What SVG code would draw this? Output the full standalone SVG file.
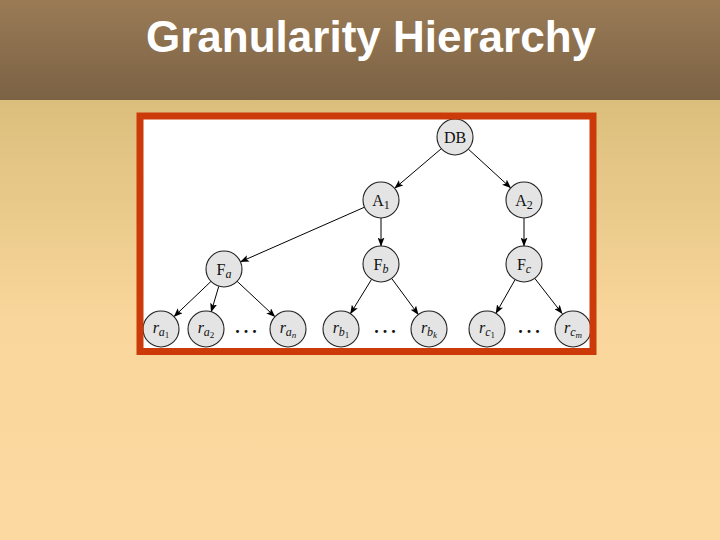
<svg xmlns="http://www.w3.org/2000/svg" width="720" height="540" viewBox="0 0 720 540">
  <defs>
    <linearGradient id="hdr" x1="0" y1="0" x2="0" y2="1">
      <stop offset="0" stop-color="#9a7b56"/>
      <stop offset="1" stop-color="#7b6244"/>
    </linearGradient>
    <linearGradient id="bg" x1="0" y1="100" x2="0" y2="540" gradientUnits="userSpaceOnUse">
      <stop offset="0" stop-color="#dbbe7c"/>
      <stop offset="0.5" stop-color="#f9d69b"/>
      <stop offset="1" stop-color="#fcd9a0"/>
    </linearGradient>
    <marker id="arr" markerWidth="9" markerHeight="7" refX="8.5" refY="3.5" orient="auto" markerUnits="userSpaceOnUse">
      <path d="M0,0 L9,3.5 L0,7 L2,3.5 z" fill="#000"/>
    </marker>
    <style>
      .node circle { fill: #e4e4e4; stroke: #222; stroke-width: 1.1; }
      .node text { font-family: "Liberation Serif", "Times New Roman", serif; font-size: 16px; fill: #111; text-anchor: middle; }
      .it { font-style: italic; }
      .sub { font-size: 12px; }
      .subsub { font-size: 9px; }
      .conn line { stroke: #000; stroke-width: 1; marker-end: url(#arr); }
      .dots { font-family: "Liberation Serif", serif; font-size: 18px; font-weight: bold; fill: #111; text-anchor: middle; letter-spacing: 4px; }
    </style>
  </defs>

  <rect x="0" y="0" width="720" height="540" fill="url(#bg)"/>
  <rect x="0" y="0" width="720" height="100" fill="url(#hdr)"/>
  <text x="371" y="52" font-family="Liberation Sans, Arial, sans-serif" font-size="44" font-weight="bold" fill="#ffffff" text-anchor="middle">Granularity Hierarchy</text>

  <rect x="140" y="116" width="453" height="235.5" fill="#ffffff"/>

  <g class="conn">
    <line x1="441.3" y1="148.7" x2="394.7" y2="188.3"/>
    <line x1="468.3" y1="149.1" x2="510.7" y2="187.9"/>
    <line x1="364.5" y1="207.2" x2="240.5" y2="261.8"/>
    <line x1="381" y1="218" x2="381" y2="246"/>
    <line x1="524" y1="218" x2="524" y2="246"/>
    <line x1="211" y1="281.4" x2="174" y2="316.6"/>
    <line x1="218.8" y1="286.2" x2="211.2" y2="311.8"/>
    <line x1="237.1" y1="281.3" x2="274.9" y2="316.7"/>
    <line x1="371.6" y1="279.3" x2="350.4" y2="313.7"/>
    <line x1="391.7" y1="278.5" x2="418.3" y2="314.5"/>
    <line x1="515.1" y1="279.6" x2="495.9" y2="313.4"/>
    <line x1="534.8" y1="278.4" x2="562.2" y2="313.6"/>
  </g>

  <g id="DB" class="node"><circle cx="455" cy="137" r="18"/><text x="455" y="142.5">DB</text></g>
  <g id="A1" class="node"><circle cx="381" cy="200" r="18"/><text x="381" y="205.5">A<tspan class="sub" dy="3">1</tspan></text></g>
  <g id="A2" class="node"><circle cx="524" cy="200" r="18"/><text x="524" y="205.5">A<tspan class="sub" dy="3">2</tspan></text></g>
  <g id="Fa" class="node"><circle cx="224" cy="269" r="18"/><text x="224" y="274.5">F<tspan class="sub it" dy="3">a</tspan></text></g>
  <g id="Fb" class="node"><circle cx="381" cy="264" r="18"/><text x="381" y="269.5">F<tspan class="sub it" dy="3">b</tspan></text></g>
  <g id="Fc" class="node"><circle cx="524" cy="264" r="18"/><text x="524" y="269.5">F<tspan class="sub it" dy="3">c</tspan></text></g>

  <g id="ra1" class="node"><circle cx="161" cy="329" r="18"/><text x="161" y="333"><tspan class="it">r</tspan><tspan class="sub it" dy="3">a</tspan><tspan class="subsub" dy="2">1</tspan></text></g>
  <g id="ra2" class="node"><circle cx="206" cy="329" r="18"/><text x="206" y="333"><tspan class="it">r</tspan><tspan class="sub it" dy="3">a</tspan><tspan class="subsub" dy="2">2</tspan></text></g>
  <g id="ran" class="node"><circle cx="288" cy="329" r="18"/><text x="288" y="333"><tspan class="it">r</tspan><tspan class="sub it" dy="3">a</tspan><tspan class="subsub it" dy="2">n</tspan></text></g>
  <g id="rb1" class="node"><circle cx="341" cy="329" r="18"/><text x="341" y="333"><tspan class="it">r</tspan><tspan class="sub it" dy="3">b</tspan><tspan class="subsub" dy="2">1</tspan></text></g>
  <g id="rbk" class="node"><circle cx="429" cy="329" r="18"/><text x="429" y="333"><tspan class="it">r</tspan><tspan class="sub it" dy="3">b</tspan><tspan class="subsub it" dy="2">k</tspan></text></g>
  <g id="rc1" class="node"><circle cx="487" cy="329" r="18"/><text x="487" y="333"><tspan class="it">r</tspan><tspan class="sub it" dy="3">c</tspan><tspan class="subsub" dy="2">1</tspan></text></g>
  <g id="rcm" class="node"><circle cx="573" cy="329" r="18"/><text x="573" y="333"><tspan class="it">r</tspan><tspan class="sub it" dy="3">c</tspan><tspan class="subsub it" dy="2">m</tspan></text></g>

  <text class="dots" x="248" y="333">...</text>
  <text class="dots" x="387" y="333">...</text>
  <text class="dots" x="531" y="333">...</text>

  <rect x="140" y="116" width="453" height="235.5" fill="none" stroke="#cc3a0a" stroke-width="7"/>
</svg>
